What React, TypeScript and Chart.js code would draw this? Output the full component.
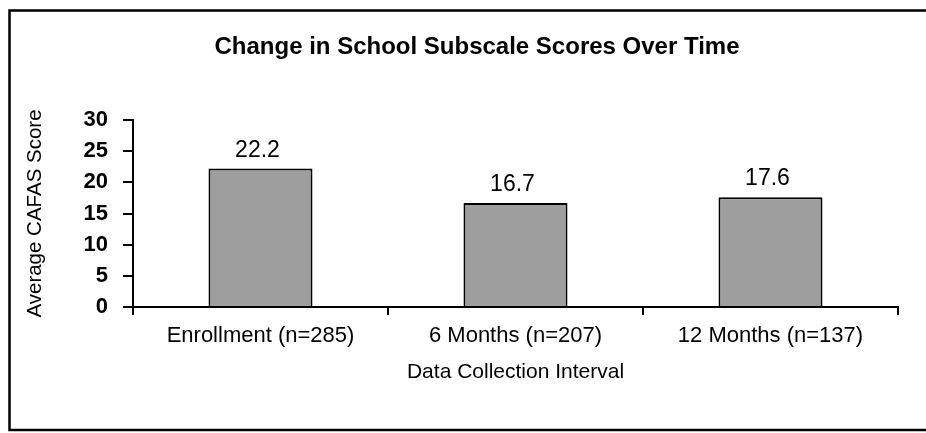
import React, { useEffect, useRef } from "react";
import { Chart, registerables } from "chart.js";

Chart.register(...registerables);

const categories = ["Enrollment (n=285)", "6 Months (n=207)", "12 Months (n=137)"];
const scores = [22.2, 16.7, 17.6];
const titleText = "Change in School Subscale Scores Over Time";
const yTitle = "Average CAFAS Score";
const xTitle = "Data Collection Interval";

const FONT = "'Liberation Sans', Arial, Helvetica, sans-serif";

const framePlugin = {
  id: "frame",
  beforeDraw(chart: any) {
    const ctx = chart.ctx;
    ctx.save();
    ctx.fillStyle = "#ffffff";
    ctx.fillRect(0, 0, chart.width, chart.height);
    ctx.strokeStyle = "#000000";
    ctx.lineWidth = 2.5;
    ctx.beginPath();
    ctx.moveTo(chart.width, 10.5);
    ctx.lineTo(9.5, 10.5);
    ctx.lineTo(9.5, 430);
    ctx.lineTo(chart.width, 430);
    ctx.stroke();
    // chart title
    ctx.font = `bold 24px ${FONT}`;
    ctx.fillStyle = "#000000";
    ctx.textAlign = "center";
    ctx.textBaseline = "middle";
    ctx.fillText(titleText, 477, 47);
    ctx.restore();
  },
};

const valueLabelPlugin = {
  id: "valueLabels",
  afterDatasetsDraw(chart: any) {
    const ctx = chart.ctx;
    const meta = chart.getDatasetMeta(0);
    const data = chart.data.datasets[0].data;
    ctx.save();
    ctx.font = `23px ${FONT}`;
    ctx.fillStyle = "#000000";
    ctx.textAlign = "center";
    ctx.textBaseline = "alphabetic";
    meta.data.forEach((bar: any, i: number) => {
      ctx.fillText(String(data[i]), bar.x - 3, bar.y - 12);
    });
    ctx.restore();
  },
};

export default function App() {
  const ref = useRef<HTMLCanvasElement | null>(null);

  useEffect(() => {
    document.body.style.margin = "0";
    if (!ref.current) return;
    const chart = new Chart(ref.current, {
      type: "bar",
      data: {
        labels: categories,
        datasets: [
          {
            data: scores,
            backgroundColor: "#9e9e9e",
            borderColor: "#000000",
            borderWidth: 2,
            barPercentage: 0.408,
            categoryPercentage: 1,
          },
        ],
      },
      options: {
        responsive: false,
        animation: false,
        layout: { padding: { left: 0, right: 28, top: 120, bottom: 0 } },
        plugins: {
          legend: { display: false },
          tooltip: { enabled: false },
          title: { display: false },
        },
        scales: {
          x: {
            afterFit(scale: any) {
              scale.height = 126;
            },
            grid: {
              display: true,
              drawOnChartArea: false,
              drawTicks: true,
              tickLength: 8,
              color: "#000000",
              lineWidth: 2,
              offset: true,
            },
            border: { display: true, color: "#000000", width: 2 },
            ticks: {
              color: "#000000",
              font: { family: FONT, size: 22 },
              padding: 8,
              maxRotation: 0,
            },
            title: {
              display: true,
              text: xTitle,
              color: "#000000",
              font: { family: FONT, size: 21, lineHeight: 1.2 },
              padding: { top: 0, bottom: 48 },
            },
          },
          y: {
            min: 0,
            max: 30,
            afterFit(scale: any) {
              scale.width = 133;
            },
            grid: {
              display: true,
              drawOnChartArea: false,
              drawTicks: true,
              tickLength: 10,
              color: "#000000",
              lineWidth: 2,
            },
            border: { display: true, color: "#000000", width: 2 },
            ticks: {
              stepSize: 5,
              color: "#000000",
              font: { family: FONT, size: 22, weight: "bold" },
              padding: 15,
            },
            title: {
              display: true,
              text: yTitle,
              color: "#000000",
              font: { family: FONT, size: 20.5, lineHeight: 1.2 },
              padding: { top: 23, bottom: 0 },
            },
          },
        },
      },
      plugins: [framePlugin, valueLabelPlugin],
    });
    return () => chart.destroy();
  }, []);

  return <canvas ref={ref} width={926} height={433} style={{ display: "block" }} />;
}
